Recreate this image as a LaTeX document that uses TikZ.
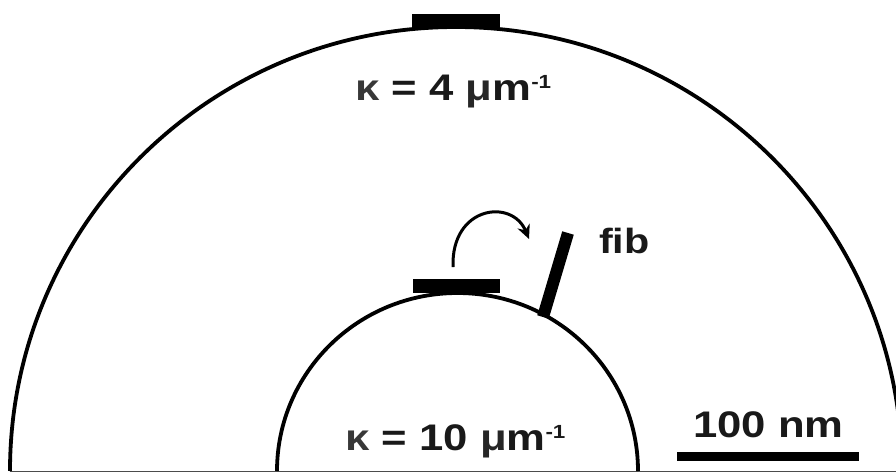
\documentclass[tikz,border=0pt]{standalone}
\usepackage{fontspec}
\usetikzlibrary{arrows.meta}
\newfontfamily\labfont[FakeStretch=1.18]{Liberation Sans}
\newcommand{\kap}{{\color{black!78}κ}}
\newcommand{\mym}{{\color{black!85}μ}}
\newcommand{\inv}{\raisebox{12pt}{\fontsize{19}{19}\selectfont -1}}
\tikzset{
  lab/.style={font=\labfont\bfseries\fontsize{37}{40}\selectfont, text=black!90, inner sep=0pt, anchor=base west},
  membrane/.style={line width=3.8pt, draw=black},
  patch/.style={fill=black, draw=none},
  flip/.style={line width=3pt, -{Stealth[length=14pt,width=13pt]}},
}
\begin{document}
\begin{tikzpicture}[x=1pt,y=1pt]
\useasboundingbox (0,0) rectangle (896,472);
\clip (0,0) rectangle (896,472);
% base line
\coordinate (bl) at (10,0.8);
\coordinate (br) at (896,0.8);
\draw[black!70, line width=1.2pt] (bl) -- (br);
% outer membrane
\coordinate (outL) at (10,1);
\draw[membrane] (outL) arc[start angle=180, end angle=0, x radius=446, y radius=444];
% inner membrane
\coordinate (inL) at (277,1);
\draw[membrane] (inL) arc[start angle=180, end angle=0, x radius=180.5, y radius=178];
% patches
\fill[patch] (412,444) rectangle (500,458);
\fill[patch] (413,179) rectangle (500,193);
% fib rod
\coordinate (fibA) at (543,155);
\coordinate (fibB) at (568,239);
\draw[line width=12pt] (fibA) -- (fibB);
% curved arrow
\coordinate (arS) at (453,205);
\coordinate (arE) at (529,233);
\draw[flip] (arS) .. controls (451,266) and (512,274) .. (arE);
% labels
\node[lab] (k4) at (355,371) {\kap{} = 4 \mym m\inv};
\node[lab] (k10) at (345,22) {\kap{} = 10 \mym m\inv};
\node[lab, font=\labfont\bfseries\fontsize{35}{37}\selectfont] (fib) at (599,219) {fib};
\node[lab] (sc) at (693,35) {100 nm};
\fill[patch] (677,11) rectangle (859,20);
\end{tikzpicture}
\end{document}
